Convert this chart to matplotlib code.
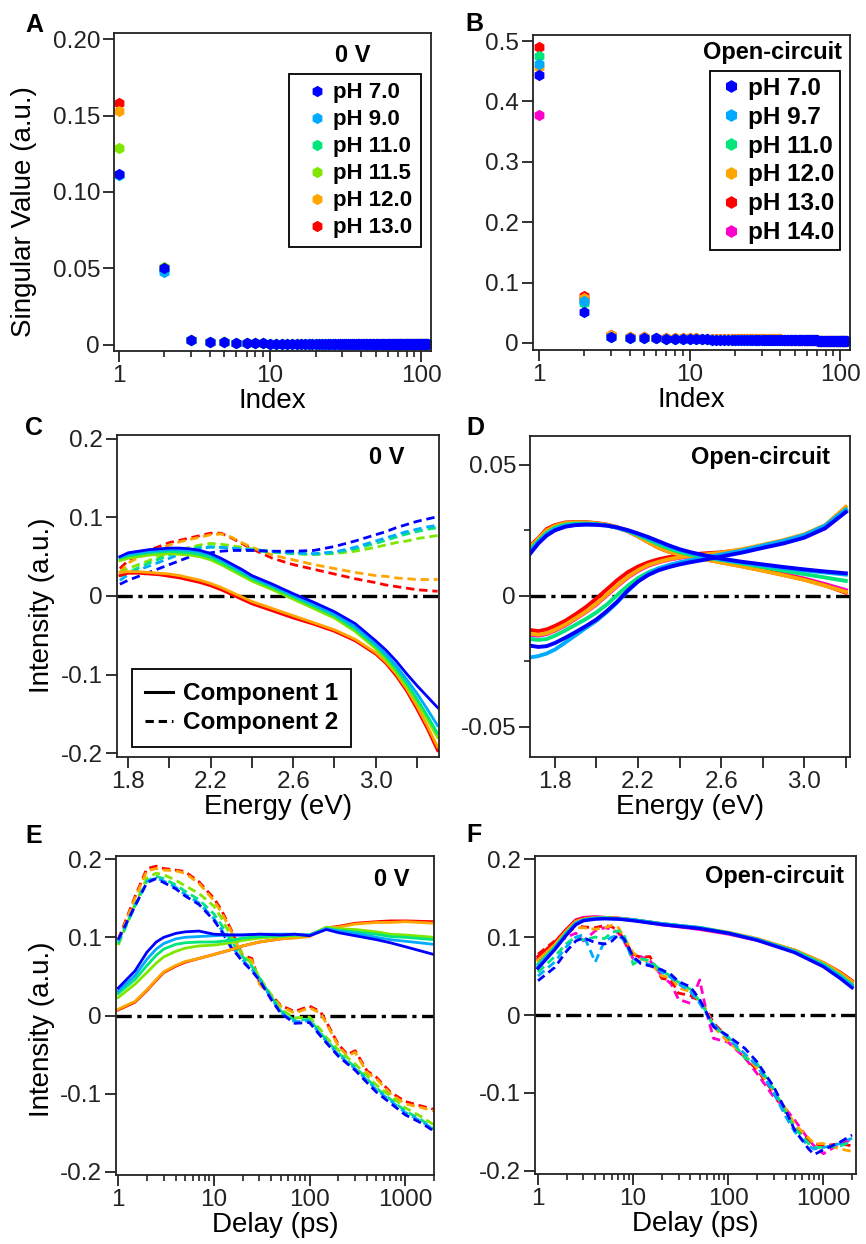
import numpy as np
import matplotlib
matplotlib.use("Agg")
import matplotlib.pyplot as plt
from matplotlib.ticker import NullFormatter, FixedLocator

plt.rcParams['font.family'] = ['Liberation Sans', 'DejaVu Sans']
plt.rcParams['axes.unicode_minus'] = False
plt.rcParams['lines.scale_dashes'] = False

# colours per pH
col = {'7.0': '#0000ff', '9.0': '#00aaff', '9.7': '#00aaff', '11.0': '#00e67a',
       '11.5': '#80e600', '12.0': '#ffa500', '13.0': '#ff0000', '14.0': '#ff00cc'}

ph_0V = ['7.0', '9.0', '11.0', '11.5', '12.0', '13.0']
ph_oc = ['7.0', '9.7', '11.0', '12.0', '13.0', '14.0']

# ---------------- A: singular values, 0 V ----------------
idx = np.arange(1, 111)
sv1_0V = [0.112, 0.111, 0.111, 0.129, 0.153, 0.158]
sv2_0V = [0.050, 0.048, 0.049, 0.051, 0.050, 0.050]
tail_0V = ([0.0030, 0.0022, 0.0017, 0.0014, 0.0012, 0.0011, 0.0010, 0.0009,
            0.0009, 0.0009, 0.0008, 0.0008, 0.0008, 0.0007, 0.0007, 0.0007,
            0.0007, 0.0006] + [0.0006] * 20 + [0.0005] * 30 + [0.0004] * 40)

# ---------------- B: singular values, open circuit ----------------
sv1_oc = [0.443, 0.462, 0.476, 0.457, 0.490, 0.378]
sv2_oc = [0.052, 0.070, 0.066, 0.075, 0.077, 0.072]
tail_oc_low = ([0.010, 0.009, 0.008, 0.0075, 0.0070, 0.0068, 0.0065, 0.0063,
                0.0062, 0.0060, 0.0058, 0.0057, 0.0056, 0.0055, 0.0054, 0.0053,
                0.0052, 0.0051] + [0.0050] * 20 + [0.0045] * 30 + [0.0035] * 40)
tail_oc_high = ([0.013, 0.0105, 0.0095, 0.0090, 0.0086, 0.0083, 0.0080, 0.0078,
                 0.0076, 0.0074, 0.0072, 0.0071, 0.0070, 0.0069, 0.0068, 0.0067,
                 0.0066, 0.0065] + [0.0064] * 20 + [0.0055] * 30 + [0.0040] * 40)

# ---------------- C: spectra, 0 V ----------------
e_C = [1.76, 1.80, 1.85, 1.90, 1.95, 2.00, 2.05, 2.10, 2.15, 2.20, 2.25, 2.30, 2.35,
       2.40, 2.50, 2.60, 2.70, 2.80, 2.90, 3.00, 3.05, 3.10, 3.15, 3.20, 3.25, 3.30]
c1_C = {
    '7.0': [0.050, 0.055, 0.057, 0.059, 0.060, 0.061, 0.061, 0.060, 0.058, 0.054, 0.048, 0.041, 0.034,
            0.026, 0.015, 0.003, -0.008, -0.020, -0.035, -0.057, -0.069, -0.083, -0.099, -0.114, -0.128, -0.142],
    '9.0': [0.050, 0.053, 0.055, 0.057, 0.058, 0.059, 0.059, 0.058, 0.056, 0.052, 0.046, 0.039, 0.032,
            0.024, 0.013, 0.001, -0.011, -0.023, -0.039, -0.061, -0.074, -0.089, -0.106, -0.124, -0.144, -0.165],
    '11.0': [0.048, 0.051, 0.053, 0.055, 0.056, 0.057, 0.056, 0.055, 0.053, 0.049, 0.043, 0.036, 0.029,
             0.022, 0.011, -0.001, -0.013, -0.025, -0.042, -0.064, -0.077, -0.093, -0.111, -0.131, -0.152, -0.175],
    '11.5': [0.045, 0.048, 0.050, 0.052, 0.053, 0.054, 0.053, 0.052, 0.050, 0.046, 0.040, 0.033, 0.026,
             0.019, 0.008, -0.004, -0.016, -0.028, -0.045, -0.067, -0.081, -0.097, -0.115, -0.135, -0.157, -0.180],
    '12.0': [0.030, 0.031, 0.031, 0.030, 0.029, 0.028, 0.026, 0.023, 0.020, 0.016, 0.011, 0.005, -0.001,
             -0.007, -0.016, -0.025, -0.034, -0.043, -0.055, -0.072, -0.084, -0.099, -0.118, -0.140, -0.165, -0.192],
    '13.0': [0.026, 0.029, 0.029, 0.028, 0.027, 0.025, 0.023, 0.020, 0.017, 0.013, 0.008, 0.002, -0.004,
             -0.010, -0.019, -0.028, -0.036, -0.045, -0.057, -0.074, -0.086, -0.102, -0.121, -0.144, -0.169, -0.197],
}
c2_C = {
    '7.0': [0.015, 0.020, 0.025, 0.030, 0.035, 0.040, 0.045, 0.050, 0.053, 0.055, 0.057, 0.058, 0.058,
            0.058, 0.057, 0.057, 0.058, 0.063, 0.070, 0.078, 0.082, 0.087, 0.091, 0.095, 0.098, 0.101],
    '9.0': [0.020, 0.027, 0.033, 0.038, 0.043, 0.048, 0.053, 0.058, 0.061, 0.062, 0.062, 0.061, 0.060,
            0.059, 0.057, 0.055, 0.054, 0.056, 0.062, 0.070, 0.074, 0.078, 0.082, 0.085, 0.088, 0.090],
    '11.0': [0.025, 0.030, 0.036, 0.042, 0.047, 0.052, 0.056, 0.060, 0.062, 0.063, 0.062, 0.061, 0.059,
             0.058, 0.056, 0.054, 0.053, 0.055, 0.060, 0.067, 0.071, 0.075, 0.079, 0.082, 0.085, 0.087],
    '11.5': [0.030, 0.035, 0.040, 0.045, 0.050, 0.055, 0.059, 0.062, 0.065, 0.067, 0.066, 0.064, 0.062,
             0.060, 0.056, 0.054, 0.053, 0.054, 0.057, 0.062, 0.065, 0.068, 0.070, 0.073, 0.075, 0.077],
    '12.0': [0.030, 0.042, 0.049, 0.055, 0.060, 0.065, 0.069, 0.072, 0.075, 0.078, 0.079, 0.075, 0.068,
             0.062, 0.052, 0.046, 0.040, 0.035, 0.030, 0.026, 0.025, 0.023, 0.022, 0.021, 0.021, 0.021],
    '13.0': [0.035, 0.045, 0.052, 0.058, 0.063, 0.068, 0.071, 0.074, 0.077, 0.080, 0.080, 0.074, 0.067,
             0.060, 0.048, 0.040, 0.034, 0.028, 0.022, 0.017, 0.014, 0.012, 0.010, 0.008, 0.007, 0.006],
}

# ---------------- D: spectra, open circuit ----------------
e_D = [1.68, 1.72, 1.76, 1.80, 1.85, 1.90, 1.95, 2.00, 2.05, 2.10, 2.15, 2.20, 2.25,
       2.30, 2.35, 2.40, 2.45, 2.50, 2.60, 2.70, 2.80, 2.90, 3.00, 3.10, 3.20]
c1_D = {
    '7.0': [0.0160, 0.0200, 0.0230, 0.0250, 0.0264, 0.0270, 0.0272, 0.0271, 0.0268, 0.0261, 0.0251, 0.0238, 0.0224,
            0.0208, 0.0192, 0.0178, 0.0167, 0.0158, 0.0142, 0.0130, 0.0120, 0.0110, 0.0101, 0.0093, 0.0086],
    '9.7': [0.0170, 0.0205, 0.0235, 0.0255, 0.0267, 0.0272, 0.0273, 0.0272, 0.0268, 0.0260, 0.0249, 0.0235, 0.0220,
            0.0204, 0.0188, 0.0175, 0.0164, 0.0155, 0.0139, 0.0127, 0.0116, 0.0106, 0.0097, 0.0089, 0.0081],
    '11.0': [0.0175, 0.0210, 0.0240, 0.0260, 0.0272, 0.0276, 0.0276, 0.0274, 0.0269, 0.0260, 0.0248, 0.0232, 0.0214,
             0.0196, 0.0180, 0.0167, 0.0157, 0.0150, 0.0137, 0.0124, 0.0110, 0.0096, 0.0083, 0.0070, 0.0057],
    '12.0': [0.0185, 0.0218, 0.0250, 0.0267, 0.0278, 0.0281, 0.0280, 0.0277, 0.0271, 0.0261, 0.0247, 0.0227, 0.0204,
             0.0183, 0.0168, 0.0157, 0.0149, 0.0142, 0.0127, 0.0112, 0.0096, 0.0079, 0.0061, 0.0039, 0.0015],
    '13.0': [0.0190, 0.0220, 0.0255, 0.0270, 0.0280, 0.0282, 0.0281, 0.0278, 0.0272, 0.0262, 0.0248, 0.0228, 0.0205,
             0.0183, 0.0168, 0.0158, 0.0150, 0.0143, 0.0128, 0.0113, 0.0097, 0.0080, 0.0062, 0.0040, 0.0012],
    '14.0': [0.0185, 0.0218, 0.0250, 0.0267, 0.0277, 0.0280, 0.0279, 0.0276, 0.0270, 0.0260, 0.0246, 0.0227, 0.0205,
             0.0184, 0.0169, 0.0159, 0.0151, 0.0144, 0.0130, 0.0116, 0.0101, 0.0085, 0.0066, 0.0045, 0.0022],
}
c2_D = {
    '7.0': [-0.0190, -0.0195, -0.0192, -0.0180, -0.0160, -0.0138, -0.0115, -0.0090, -0.0058, -0.0022, 0.0020, 0.0055, 0.0080,
            0.0098, 0.0110, 0.0120, 0.0128, 0.0135, 0.0150, 0.0165, 0.0183, 0.0200, 0.0222, 0.0258, 0.0320],
    '9.7': [-0.0235, -0.0230, -0.0220, -0.0205, -0.0178, -0.0150, -0.0122, -0.0095, -0.0062, -0.0025, 0.0018, 0.0055, 0.0085,
            0.0105, 0.0118, 0.0128, 0.0136, 0.0143, 0.0158, 0.0173, 0.0192, 0.0210, 0.0232, 0.0268, 0.0330],
    '11.0': [-0.0165, -0.0168, -0.0165, -0.0152, -0.0132, -0.0110, -0.0088, -0.0063, -0.0033, 0.0003, 0.0038, 0.0068, 0.0090,
             0.0105, 0.0116, 0.0125, 0.0133, 0.0140, 0.0155, 0.0170, 0.0188, 0.0205, 0.0228, 0.0263, 0.0328],
    '12.0': [-0.0145, -0.0148, -0.0143, -0.0130, -0.0110, -0.0085, -0.0060, -0.0030, 0.0005, 0.0040, 0.0072, 0.0098, 0.0118,
             0.0130, 0.0140, 0.0147, 0.0152, 0.0156, 0.0165, 0.0178, 0.0195, 0.0213, 0.0235, 0.0270, 0.0340],
    '13.0': [-0.0130, -0.0135, -0.0128, -0.0115, -0.0095, -0.0070, -0.0042, -0.0010, 0.0025, 0.0060, 0.0090, 0.0112, 0.0128,
             0.0140, 0.0148, 0.0154, 0.0158, 0.0161, 0.0166, 0.0175, 0.0188, 0.0205, 0.0225, 0.0260, 0.0325],
    '14.0': [-0.0150, -0.0152, -0.0146, -0.0133, -0.0113, -0.0088, -0.0062, -0.0033, 0.0002, 0.0037, 0.0069, 0.0095, 0.0115,
             0.0128, 0.0138, 0.0145, 0.0150, 0.0154, 0.0162, 0.0173, 0.0188, 0.0204, 0.0224, 0.0258, 0.0322],
}

# ---------------- E: kinetics, 0 V ----------------
t_E1 = [1, 1.5, 2, 2.5, 3, 4, 5, 7, 10, 15, 20, 30, 50, 70, 100, 150, 200, 300, 500, 700, 1000, 2000]
c1_E = {
    '7.0': [0.035, 0.057, 0.081, 0.094, 0.100, 0.105, 0.107, 0.108, 0.104, 0.103, 0.103, 0.104, 0.103, 0.104,
            0.102, 0.110, 0.106, 0.102, 0.097, 0.093, 0.088, 0.078],
    '9.0': [0.031, 0.051, 0.072, 0.085, 0.092, 0.098, 0.100, 0.101, 0.102, 0.103, 0.103, 0.104, 0.104, 0.104,
            0.103, 0.111, 0.108, 0.105, 0.100, 0.097, 0.095, 0.091],
    '11.0': [0.028, 0.046, 0.064, 0.077, 0.085, 0.091, 0.093, 0.094, 0.094, 0.096, 0.099, 0.101, 0.102, 0.103,
             0.103, 0.111, 0.109, 0.107, 0.104, 0.101, 0.100, 0.097],
    '11.5': [0.023, 0.040, 0.055, 0.067, 0.075, 0.082, 0.086, 0.089, 0.090, 0.093, 0.096, 0.099, 0.101, 0.102,
             0.103, 0.113, 0.111, 0.110, 0.107, 0.104, 0.103, 0.100],
    '12.0': [0.008, 0.018, 0.033, 0.046, 0.056, 0.064, 0.069, 0.073, 0.078, 0.084, 0.089, 0.094, 0.098, 0.099,
             0.101, 0.112, 0.113, 0.117, 0.119, 0.119, 0.120, 0.118],
    '13.0': [0.007, 0.017, 0.032, 0.045, 0.055, 0.063, 0.068, 0.073, 0.078, 0.084, 0.089, 0.094, 0.098, 0.100,
             0.102, 0.112, 0.114, 0.118, 0.120, 0.121, 0.121, 0.120],
}
t_E2 = [1, 1.5, 2, 2.5, 3, 4, 5, 7, 10, 12, 15, 20, 25, 30, 40, 50, 70, 100, 130, 150, 200, 250, 300,
        400, 500, 700, 1000, 1500, 2000]
c2_E = {
    '7.0': [0.097, 0.140, 0.170, 0.175, 0.170, 0.162, 0.153, 0.142, 0.122, 0.108, 0.088, 0.069, 0.057, 0.045,
            0.020, 0.003, -0.010, -0.009, -0.026, -0.035, -0.052, -0.062, -0.070, -0.086, -0.098, -0.112, -0.127,
            -0.138, -0.148],
    '9.0': [0.095, 0.140, 0.171, 0.176, 0.172, 0.164, 0.155, 0.144, 0.124, 0.110, 0.090, 0.071, 0.059, 0.046,
            0.022, 0.004, -0.008, -0.007, -0.024, -0.033, -0.050, -0.060, -0.068, -0.083, -0.095, -0.109, -0.124,
            -0.136, -0.146],
    '11.0': [0.092, 0.140, 0.172, 0.178, 0.175, 0.167, 0.159, 0.148, 0.130, 0.116, 0.096, 0.075, 0.063, 0.048,
             0.024, 0.006, -0.006, -0.005, -0.022, -0.031, -0.048, -0.058, -0.066, -0.081, -0.093, -0.107, -0.122,
             -0.134, -0.146],
    '11.5': [0.090, 0.142, 0.176, 0.182, 0.180, 0.173, 0.166, 0.156, 0.140, 0.125, 0.102, 0.078, 0.066, 0.049,
             0.026, 0.008, -0.003, -0.002, -0.018, -0.028, -0.044, -0.054, -0.062, -0.077, -0.089, -0.103, -0.118,
             -0.130, -0.140],
    '12.0': [0.095, 0.150, 0.185, 0.188, 0.186, 0.185, 0.182, 0.169, 0.147, 0.132, 0.109, 0.075, 0.071, 0.040,
             0.025, 0.012, 0.003, 0.010, 0.003, -0.010, -0.039, -0.052, -0.047, -0.073, -0.081, -0.100, -0.113,
             -0.118, -0.122],
    '13.0': [0.097, 0.152, 0.188, 0.191, 0.188, 0.186, 0.184, 0.171, 0.150, 0.135, 0.111, 0.077, 0.073, 0.042,
             0.026, 0.013, 0.005, 0.012, 0.005, -0.008, -0.037, -0.050, -0.045, -0.071, -0.079, -0.098, -0.110,
             -0.116, -0.120],
}

# ---------------- F: kinetics, open circuit ----------------
t_F1 = [1, 1.5, 2, 2.5, 3, 4, 5, 7, 10, 20, 50, 100, 200, 500, 1000, 1500, 2000]
c1_F = {
    '7.0': [0.060, 0.084, 0.103, 0.116, 0.121, 0.123, 0.1235, 0.123, 0.121, 0.116, 0.111, 0.105, 0.096, 0.080, 0.062, 0.047, 0.035],
    '9.7': [0.062, 0.085, 0.104, 0.117, 0.122, 0.124, 0.124, 0.1235, 0.122, 0.117, 0.112, 0.105, 0.097, 0.081, 0.063, 0.049, 0.037],
    '11.0': [0.065, 0.087, 0.106, 0.118, 0.122, 0.124, 0.1245, 0.1235, 0.122, 0.117, 0.112, 0.1055, 0.097, 0.082, 0.065, 0.051, 0.039],
    '12.0': [0.070, 0.090, 0.108, 0.120, 0.123, 0.125, 0.125, 0.124, 0.122, 0.117, 0.112, 0.106, 0.098, 0.083, 0.067, 0.054, 0.043],
    '13.0': [0.075, 0.093, 0.110, 0.121, 0.124, 0.125, 0.125, 0.124, 0.122, 0.117, 0.111, 0.105, 0.097, 0.083, 0.067, 0.055, 0.044],
    '14.0': [0.072, 0.092, 0.110, 0.122, 0.125, 0.126, 0.125, 0.124, 0.122, 0.116, 0.110, 0.104, 0.096, 0.082, 0.065, 0.053, 0.042],
}
t_F2 = [1, 1.5, 2, 2.5, 3, 4, 5, 6, 7, 8, 10, 12, 15, 20, 25, 30, 40, 50, 60, 70, 100, 150, 200, 300,
        400, 500, 700, 800, 1000, 1500, 2000]
c2_F = {
    '7.0': [0.044, 0.061, 0.082, 0.095, 0.099, 0.093, 0.091, 0.095, 0.103, 0.098, 0.075, 0.066, 0.063, 0.058,
            0.052, 0.043, 0.036, 0.020, 0.001, -0.015, -0.027, -0.043, -0.060, -0.092, -0.122, -0.148, -0.172,
            -0.179, -0.173, -0.163, -0.154],
    '9.7': [0.050, 0.068, 0.088, 0.100, 0.103, 0.068, 0.095, 0.100, 0.102, 0.096, 0.072, 0.068, 0.065, 0.055,
            0.048, 0.040, 0.030, 0.015, 0.000, -0.012, -0.030, -0.050, -0.065, -0.100, -0.130, -0.150, -0.168,
            -0.172, -0.170, -0.165, -0.158],
    '11.0': [0.055, 0.075, 0.092, 0.100, 0.096, 0.100, 0.098, 0.106, 0.108, 0.104, 0.065, 0.072, 0.070, 0.056,
             0.050, 0.042, 0.033, 0.018, 0.002, -0.015, -0.028, -0.055, -0.062, -0.095, -0.125, -0.145, -0.165,
             -0.170, -0.170, -0.168, -0.162],
    '12.0': [0.070, 0.092, 0.105, 0.112, 0.112, 0.110, 0.112, 0.115, 0.112, 0.100, 0.080, 0.072, 0.068, 0.050,
             0.048, 0.035, 0.030, 0.018, 0.004, -0.015, -0.035, -0.052, -0.068, -0.098, -0.120, -0.140, -0.158,
             -0.165, -0.165, -0.172, -0.175],
    '13.0': [0.078, 0.095, 0.108, 0.115, 0.113, 0.112, 0.115, 0.113, 0.108, 0.097, 0.078, 0.074, 0.075, 0.047,
             0.045, 0.028, 0.025, 0.018, 0.005, -0.010, -0.030, -0.055, -0.070, -0.100, -0.125, -0.145, -0.160,
             -0.165, -0.168, -0.165, -0.168],
    '14.0': [0.072, 0.090, 0.100, 0.105, 0.095, 0.108, 0.112, 0.110, 0.105, 0.095, 0.072, 0.075, 0.070, 0.050,
             0.040, 0.020, 0.015, 0.045, 0.000, -0.030, -0.035, -0.055, -0.075, -0.105, -0.120, -0.135, -0.160,
             -0.168, -0.178, -0.165, -0.160],
}

W, H = 866, 1244
fig = plt.figure(figsize=(W / 100, H / 100), dpi=100)

TICK = 17.5
LABEL = 20


def add_ax(l, r, t, b):
    return fig.add_axes([l / W, 1 - b / H, (r - l) / W, (b - t) / H])


def style(ax):
    for s in ax.spines.values():
        s.set_linewidth(1.3)
        s.set_color('#222222')
    ax.tick_params(which='major', direction='out', length=8, width=1.3, labelsize=TICK, pad=2, colors='#222222')
    ax.tick_params(which='minor', direction='out', length=4.5, width=1.2, colors='#222222')


def zero_line(ax):
    ax.axhline(0, color='black', lw=2.4, dashes=(11, 4, 3, 4), zorder=1)


def pH_legend(ax, anchor, size, bp, hl, htp, ls, ms):
    h, l = ax.get_legend_handles_labels()
    leg = ax.legend(h[::-1], l[::-1], loc='upper right', bbox_to_anchor=anchor, fancybox=False,
                    edgecolor='black', framealpha=1, prop={'weight': 'bold', 'size': size},
                    handletextpad=htp, labelspacing=ls, borderpad=bp, handlelength=hl,
                    borderaxespad=0, markerscale=ms)
    leg.get_frame().set_linewidth(1.3)


axA = add_ax(114, 431, 33, 351)
axB = add_ax(533, 850, 35, 350)
axC = add_ax(117, 439, 435, 757)
axD = add_ax(530, 850, 436, 757)
axE = add_ax(116, 434, 856, 1175)
axF = add_ax(535, 856, 856, 1174)

# A
for i in reversed(range(6)):
    p = ph_0V[i]
    vals = [sv1_0V[i], sv2_0V[i]] + tail_0V
    axA.plot(idx, vals, 'h', ms=7, color=col[p], mec=col[p], label='pH ' + p, ls='none')
axA.set_xscale('log')
axA.set_xlim(0.93, 116)
axA.set_ylim(-0.004, 0.204)
axA.set_yticks([0, 0.05, 0.10, 0.15, 0.20])
axA.set_yticklabels(['0', '0.05', '0.10', '0.15', '0.20'])
axA.set_ylabel('Singular Value (a.u.)', fontsize=LABEL)
axA.yaxis.set_label_coords(-0.243, 0.44)
pH_legend(axA, (0.968, 0.871), 16, 0.38, 1.75, -0.12, 0.27, 1.0)

# B
for i in reversed(range(6)):
    p = ph_oc[i]
    tail = tail_oc_low if i < 3 else tail_oc_high
    vals = [sv1_oc[i], sv2_oc[i]] + tail
    axB.plot(idx, vals, 'h', ms=7, color=col[p], mec=col[p], label='pH ' + p, ls='none')
axB.set_xscale('log')
axB.set_xlim(0.91, 116)
axB.set_ylim(-0.0116, 0.51)
axB.set_yticks([0, 0.1, 0.2, 0.3, 0.4, 0.5])
axB.set_yticklabels(['0', '0.1', '0.2', '0.3', '0.4', '0.5'])
pH_legend(axB, (0.968, 0.886), 17.5, 0.25, 1.25, 0.05, 0.24, 1.15)

for ax in (axA, axB):
    ax.set_xticks([1, 10, 100])
    ax.set_xticklabels(['1', '10', '100'])
    ax.xaxis.set_minor_formatter(NullFormatter())
    ax.set_xlabel('Index', fontsize=LABEL, labelpad=1)

# C
zero_line(axC)
for p in reversed(ph_0V):
    axC.plot(e_C, c2_C[p], color=col[p], lw=2, dashes=(6, 3.5))
for p in reversed(ph_0V):
    axC.plot(e_C, c1_C[p], color=col[p], lw=2)
axC.set_xlim(1.746, 3.307)
axC.set_ylim(-0.205, 0.205)
axC.set_yticks([-0.2, -0.1, 0, 0.1, 0.2])
axC.set_yticklabels(['-0.2', '-0.1', '0', '0.1', '0.2'])
axC.set_xticks([1.8, 2.0, 2.2, 2.4, 2.6, 2.8, 3.0, 3.2])
axC.set_xticklabels(['1.8', '', '2.2', '', '2.6', '', '3.0', ''])
axC.set_ylabel('Intensity (a.u.)', fontsize=LABEL)
axC.yaxis.set_label_coords(-0.192, 0.472)
l1, = axC.plot([], [], color='black', lw=2.2)
l2, = axC.plot([], [], color='black', lw=2.2, dashes=(6, 3.5))
legC = axC.legend([l1, l2], ['Component 1', 'Component 2'], loc='lower left', bbox_to_anchor=(0.047, 0.031),
                  fancybox=False, edgecolor='black', framealpha=1, prop={'weight': 'bold', 'size': 17.5},
                  handlelength=1.15, handletextpad=0.41, labelspacing=0.24, borderpad=0.53, borderaxespad=0)
legC.get_frame().set_linewidth(1.3)

# D
zero_line(axD)
for p in reversed(ph_oc):
    axD.plot(e_D, c2_D[p], color=col[p], lw=2.8)
    axD.plot(e_D, c1_D[p], color=col[p], lw=2.8)
axD.set_xlim(1.68, 3.22)
axD.set_ylim(-0.0615, 0.061)
axD.set_yticks([-0.05, 0, 0.05])
axD.set_yticklabels(['-0.05', '0', '0.05'])
axD.yaxis.set_minor_locator(FixedLocator([-0.025, 0.025]))
axD.set_xticks([1.8, 2.0, 2.2, 2.4, 2.6, 2.8, 3.0, 3.2])
axD.set_xticklabels(['1.8', '', '2.2', '', '2.6', '', '3.0', ''])

for ax in (axC, axD):
    ax.set_xlabel('Energy (eV)', fontsize=LABEL, labelpad=1)

# E
zero_line(axE)
for p in reversed(ph_0V):
    axE.plot(t_E2, c2_E[p], color=col[p], lw=2, dashes=(6, 3.5))
for p in reversed(ph_0V):
    axE.plot(t_E1, c1_E[p], color=col[p], lw=2)
axE.set_xlim(0.95, 2000)
axE.set_ylabel('Intensity (a.u.)', fontsize=LABEL)
axE.yaxis.set_label_coords(-0.192, 0.458)

# F
zero_line(axF)
for p in reversed(ph_oc):
    axF.plot(t_F2, c2_F[p], color=col[p], lw=2, dashes=(6, 3.5))
for p in reversed(ph_oc):
    axF.plot(t_F1, c1_F[p], color=col[p], lw=2.4)
axF.set_xlim(0.93, 2200)

for ax in (axE, axF):
    ax.set_xscale('log')
    ax.set_ylim(-0.204, 0.204)
    ax.set_yticks([-0.2, -0.1, 0, 0.1, 0.2])
    ax.set_yticklabels(['-0.2', '-0.1', '0', '0.1', '0.2'])
    ax.set_xticks([1, 10, 100, 1000])
    ax.set_xticklabels(['1', '10', '100', '1000'])
    ax.xaxis.set_minor_formatter(NullFormatter())
    ax.set_xlabel('Delay (ps)', fontsize=LABEL, labelpad=1)

for ax in (axA, axB, axC, axD, axE, axF):
    style(ax)

# annotations
for x, y, s in [(353, 55, '0 V'), (387, 457, '0 V'), (392, 880, '0 V'),
                (773, 53, 'Open-circuit'), (761, 457, 'Open-circuit'), (775, 877, 'Open-circuit')]:
    fig.text(x / W, 1 - y / H, s, ha='center', va='center', fontsize=17, fontweight='bold')

for x, y, s in [(34, 25, 'A'), (474, 24, 'B'), (34, 428, 'C'), (475, 428, 'D'),
                (34, 836, 'E'), (474, 835, 'F')]:
    fig.text(x / W, 1 - y / H, s, ha='center', va='center', fontsize=18, fontweight='bold')

fig.savefig('out.png', dpi=100)
